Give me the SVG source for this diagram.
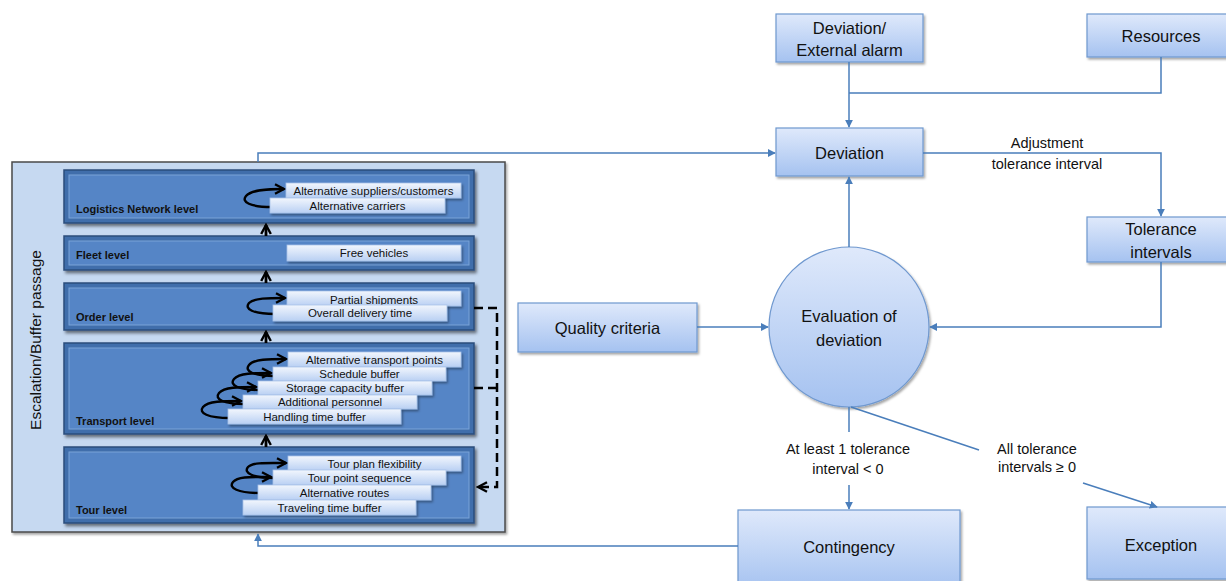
<svg xmlns="http://www.w3.org/2000/svg" width="1226" height="581" viewBox="0 0 1226 581">
<style>
.lvl-o{fill:#3f6eab;stroke:#2b4d7c;stroke-width:1.5}
.lvl-i{fill:#5585c6;stroke:#7aa3d8;stroke-width:1}
.lvl-t{font-family:"Liberation Sans",Arial,sans-serif;font-size:11px;font-weight:bold;fill:#111}
.lb{fill:url(#gl);stroke:#a9c2e8;stroke-width:0.8}
.lb-t{font-family:"Liberation Sans",Arial,sans-serif;font-size:11.5px;fill:#111;text-anchor:middle}
.nb{fill:url(#gn);stroke:#6f98cf;stroke-width:1.2}
.nt{font-family:"Liberation Sans",Arial,sans-serif;font-size:16.5px;fill:#111;text-anchor:middle}
.et{font-family:"Liberation Sans",Arial,sans-serif;font-size:14.5px;fill:#111;text-anchor:middle}
.cn{fill:none;stroke:#4a7ebb;stroke-width:1.5}
.loop{fill:none;stroke:#000;stroke-width:2.4}
.up{fill:none;stroke:#000;stroke-width:2.8}
.dash{fill:none;stroke:#000;stroke-width:2.5;stroke-dasharray:9 5}
</style>
<defs>
<linearGradient id="gn" x1="0" y1="0" x2="0" y2="1">
<stop offset="0" stop-color="#dfe9fb"/>
<stop offset="1" stop-color="#a5c2f0"/>
</linearGradient>
<linearGradient id="gl" x1="0" y1="0" x2="0" y2="1">
<stop offset="0" stop-color="#f2f6fd"/>
<stop offset="1" stop-color="#b9d0f3"/>
</linearGradient>
<filter id="sh" x="-10%" y="-10%" width="130%" height="140%">
<feDropShadow dx="1.5" dy="2" stdDeviation="1.2" flood-color="#000" flood-opacity="0.35"/>
</filter>
<filter id="sh2" x="-10%" y="-10%" width="130%" height="140%">
<feDropShadow dx="2" dy="2.5" stdDeviation="1.5" flood-color="#000" flood-opacity="0.5"/>
</filter>
<marker id="ab" viewBox="0 0 10 10" refX="9" refY="5" markerWidth="8" markerHeight="8" markerUnits="userSpaceOnUse" orient="auto">
<path d="M0,0 L10,5 L0,10 z" fill="#4a7ebb"/>
</marker>
<marker id="ak" viewBox="0 0 10 10" refX="8.5" refY="5" markerWidth="12" markerHeight="12" markerUnits="userSpaceOnUse" orient="auto">
<path d="M1,1 L8.5,5 L1,9" fill="none" stroke="#000" stroke-width="2"/>
</marker>
</defs>
<rect width="1226" height="581" fill="#fff"/>

<g id="panel">
<rect x="12" y="162" width="493" height="370" fill="#c6d9f1" stroke="#4a4a4a" stroke-width="1.5" filter="url(#sh)"/>
<text transform="translate(41,340) rotate(-90)" font-family="Liberation Sans,Arial,sans-serif" font-size="15.5" fill="#111" text-anchor="middle">Escalation/Buffer passage</text>
</g>

<g id="level-logistics">
<rect class="lvl-o" x="64" y="170" width="410" height="53" filter="url(#sh2)"/>
<rect class="lvl-i" x="69" y="175" width="400" height="43"/>
<text class="lvl-t" x="76" y="213">Logistics Network level</text>
<path class="loop" d="M272,207 C250,207 241,202 246,196 C251,190 266,189 284,189" marker-end="url(#ak)"/>
<rect class="lb" x="286" y="183" width="175" height="15" filter="url(#sh)"/>
<text class="lb-t" x="373.5" y="195">Alternative suppliers/customers</text>
<rect class="lb" x="270" y="198" width="175" height="15" filter="url(#sh)"/>
<text class="lb-t" x="357.5" y="210">Alternative carriers</text>
</g>

<g id="level-fleet">
<rect class="lvl-o" x="64" y="236" width="410" height="34" filter="url(#sh2)"/>
<rect class="lvl-i" x="69" y="241" width="400" height="24"/>
<text class="lvl-t" x="76" y="259">Fleet level</text>
<rect class="lb" x="287" y="245" width="174" height="16" filter="url(#sh)"/>
<text class="lb-t" x="374" y="257">Free vehicles</text>
</g>

<g id="level-order">
<rect class="lvl-o" x="64" y="283" width="410" height="47" filter="url(#sh2)"/>
<rect class="lvl-i" x="69" y="288" width="400" height="37"/>
<text class="lvl-t" x="76" y="321">Order level</text>
<path class="loop" d="M275,314 C253,314 244,309 249,303 C254,298 268,298 285,298" marker-end="url(#ak)"/>
<rect class="lb" x="287" y="291" width="174" height="15" filter="url(#sh)"/>
<text class="lb-t" x="374" y="304">Partial shipments</text>
<rect class="lb" x="273" y="305" width="174" height="16" filter="url(#sh)"/>
<text class="lb-t" x="360" y="317">Overall delivery time</text>
</g>

<g id="level-transport">
<rect class="lvl-o" x="64" y="343" width="410" height="91" filter="url(#sh2)"/>
<rect class="lvl-i" x="69" y="348" width="400" height="81"/>
<text class="lvl-t" x="76" y="425">Transport level</text>
<path class="loop" d="M230,418 C208,418 198,413 203,407 C208,401 223,401 241,401" marker-end="url(#ak)"/>
<path class="loop" d="M245,404 C223,404 214,399 219,393 C224,387 239,387 256,387" marker-end="url(#ak)"/>
<path class="loop" d="M260,390 C238,390 229,385 234,379 C239,373 254,373 271,373" marker-end="url(#ak)"/>
<path class="loop" d="M275,376 C253,376 244,371 249,365 C254,359 269,359 286,359" marker-end="url(#ak)"/>
<rect class="lb" x="288" y="352" width="173" height="15" filter="url(#sh)"/>
<text class="lb-t" x="374.5" y="364">Alternative transport points</text>
<rect class="lb" x="273" y="367" width="173" height="14" filter="url(#sh)"/>
<text class="lb-t" x="359.5" y="378">Schedule buffer</text>
<rect class="lb" x="258" y="381" width="174" height="14" filter="url(#sh)"/>
<text class="lb-t" x="345" y="392">Storage capacity buffer</text>
<rect class="lb" x="243" y="395" width="174" height="14" filter="url(#sh)"/>
<text class="lb-t" x="330" y="406">Additional personnel</text>
<rect class="lb" x="228" y="409" width="173" height="15" filter="url(#sh)"/>
<text class="lb-t" x="314.5" y="421">Handling time buffer</text>
</g>

<g id="level-tour">
<rect class="lvl-o" x="64" y="447" width="410" height="76" filter="url(#sh2)"/>
<rect class="lvl-i" x="69" y="452" width="400" height="66"/>
<text class="lvl-t" x="76" y="514">Tour level</text>
<path class="loop" d="M260,493 C238,493 228,488 233,482 C238,476 253,477 271,477" marker-end="url(#ak)"/>
<path class="loop" d="M275,478 C253,478 243,473 248,467 C253,462 268,463 286,463" marker-end="url(#ak)"/>
<rect class="lb" x="288" y="456" width="173" height="15" filter="url(#sh)"/>
<text class="lb-t" x="374.5" y="468">Tour plan flexibility</text>
<rect class="lb" x="273" y="470" width="173" height="15" filter="url(#sh)"/>
<text class="lb-t" x="359.5" y="482">Tour point sequence</text>
<rect class="lb" x="258" y="485" width="173" height="15" filter="url(#sh)"/>
<text class="lb-t" x="344.5" y="497">Alternative routes</text>
<rect class="lb" x="243" y="500" width="173" height="15" filter="url(#sh)"/>
<text class="lb-t" x="329.5" y="512">Traveling time buffer</text>
</g>

<g id="escalation-arrows">
<path class="up" d="M266,236 L266,225" marker-end="url(#ak)"/>
<path class="up" d="M266,283 L266,272" marker-end="url(#ak)"/>
<path class="up" d="M266,343 L266,332" marker-end="url(#ak)"/>
<path class="up" d="M266,447 L266,436" marker-end="url(#ak)"/>
<path class="dash" d="M474,308 L497,308 L497,487 L478,487" marker-end="url(#ak)"/>
<path class="dash" d="M474,388 L497,388"/>
</g>

<g id="node-alarm">
<rect class="nb" x="776" y="14" width="147" height="48" filter="url(#sh)"/>
<text class="nt" x="849.5" y="34">Deviation/</text>
<text class="nt" x="849.5" y="56">External alarm</text>
</g>
<g id="node-resources">
<rect class="nb" x="1087" y="14" width="148" height="43" filter="url(#sh)"/>
<text class="nt" x="1161" y="42">Resources</text>
</g>
<g id="node-deviation">
<rect class="nb" x="776" y="128" width="147" height="48" filter="url(#sh)"/>
<text class="nt" x="849.5" y="159">Deviation</text>
</g>
<g id="node-tolerance">
<rect class="nb" x="1087" y="217" width="148" height="45" filter="url(#sh)"/>
<text class="nt" x="1161" y="235">Tolerance</text>
<text class="nt" x="1161" y="258">intervals</text>
</g>
<g id="node-evaluation">
<circle cx="849" cy="327" r="80" fill="url(#gn)" stroke="#6f98cf" stroke-width="1.2" filter="url(#sh)"/>
<text class="nt" x="849" y="322">Evaluation of</text>
<text class="nt" x="849" y="346">deviation</text>
</g>
<g id="node-quality">
<rect class="nb" x="518" y="303" width="179" height="49" filter="url(#sh)"/>
<text class="nt" x="607.5" y="334">Quality criteria</text>
</g>
<g id="node-contingency">
<rect class="nb" x="738" y="510" width="222" height="80" filter="url(#sh)"/>
<text class="nt" x="849" y="553">Contingency</text>
</g>
<g id="node-exception">
<rect class="nb" x="1087" y="507" width="148" height="72" filter="url(#sh)"/>
<text class="nt" x="1161" y="551">Exception</text>
</g>

<g id="connectors">
<path class="cn" d="M849,62 L849,127" marker-end="url(#ab)"/>
<path class="cn" d="M1161,57 L1161,93 L849,93"/>
<path class="cn" d="M258,162 L258,153 L775,153" marker-end="url(#ab)"/>
<path class="cn" d="M923,153 L1161,153 L1161,216" marker-end="url(#ab)"/>
<path class="cn" d="M1161,262 L1161,327 L930,327" marker-end="url(#ab)"/>
<path class="cn" d="M849,247 L849,177" marker-end="url(#ab)"/>
<path class="cn" d="M697,327 L768,327" marker-end="url(#ab)"/>
<path class="cn" d="M849,407 L849,432"/>
<path class="cn" d="M849,485 L849,509" marker-end="url(#ab)"/>
<path class="cn" d="M851,407 L979,450"/>
<path class="cn" d="M1083,483 L1157,507" marker-end="url(#ab)"/>
<path class="cn" d="M738,546 L258,546 L258,534" marker-end="url(#ab)"/>
<text class="et" x="1047" y="148">Adjustment</text>
<text class="et" x="1047" y="169">tolerance interval</text>
<text class="et" x="848" y="454">At least 1 tolerance</text>
<text class="et" x="848" y="474">interval &lt; 0</text>
<text class="et" x="1037" y="454">All tolerance</text>
<text class="et" x="1037" y="472">intervals ≥ 0</text>
</g>
</svg>
